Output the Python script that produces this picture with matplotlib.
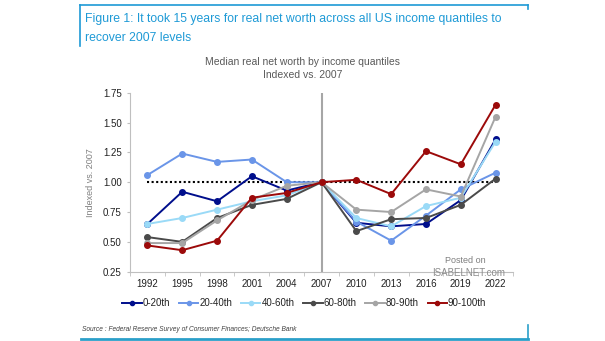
import numpy as np
import matplotlib.pyplot as plt
from matplotlib.lines import Line2D

plt.rcParams['font.family'] = ['Liberation Sans', 'DejaVu Sans']

# Dados
anos = ['1992', '1995', '1998', '2001', '2004', '2007', '2010', '2013', '2016', '2019', '2022']
q0_20 = [0.65, 0.92, 0.84, 1.05, 0.93, 1.00, 0.66, 0.63, 0.65, 0.85, 1.36]
q20_40 = [1.06, 1.24, 1.17, 1.19, 1.00, 1.00, 0.67, 0.51, 0.72, 0.94, 1.08]
q40_60 = [0.65, 0.70, 0.77, 0.84, 0.89, 1.00, 0.70, 0.63, 0.80, 0.87, 1.34]
q60_80 = [0.54, 0.50, 0.70, 0.81, 0.86, 1.00, 0.59, 0.69, 0.70, 0.81, 1.03]
q80_90 = [0.49, 0.49, 0.68, 0.85, 0.97, 1.00, 0.77, 0.75, 0.94, 0.88, 1.55]
q90_100 = [0.47, 0.43, 0.51, 0.87, 0.91, 1.00, 1.02, 0.90, 1.26, 1.15, 1.65]
series_nomes = ['0-20th', '20-40th', '40-60th', '60-80th', '80-90th', '90-100th']
cores = ['#000E8C', '#6A95E8', '#9ADAF7', '#4A4A4A', '#A5A5A5', '#9C0A0A']

fig = plt.figure(figsize=(6.05, 3.41), dpi=100)
ax = fig.add_axes([0.2149, 0.2032, 0.848 - 0.2149, 0.7282 - 0.2032])

x = np.arange(len(anos))
ax.axvline(5, color='#A6A6A6', lw=1.5, zorder=1)
ax.plot([x[0], x[-1]], [1.0, 1.0], color='black', ls=(0, (1, 1.2)), lw=1.5, zorder=2)

todas = [q0_20, q20_40, q40_60, q60_80, q80_90, q90_100]
for vals, cor in zip(todas, cores):
    ax.plot(x, vals, color=cor, lw=1.4, marker='o', ms=4, zorder=3)

ax.set_xlim(-0.5, 10.5)
ax.set_ylim(0.25, 1.75)
ax.set_yticks([0.25, 0.5, 0.75, 1.0, 1.25, 1.5, 1.75])
ax.set_yticklabels(['0.25', '0.50', '0.75', '1.00', '1.25', '1.50', '1.75'])
ax.set_xticks(x)
ax.set_xticklabels(anos)
ax.set_xticks(np.arange(-0.5, 11, 1), minor=True)
ax.tick_params(axis='x', which='major', length=0, labelsize=7, colors='#222222', pad=5)
ax.tick_params(axis='x', which='minor', length=3, color='#BFBFBF', direction='out')
ax.tick_params(axis='y', length=2, color='#BFBFBF', labelsize=7, colors='#222222', pad=4)
for s in ['top', 'right']:
    ax.spines[s].set_visible(False)
for s in ['left', 'bottom']:
    ax.spines[s].set_color('#BFBFBF')
    ax.spines[s].set_linewidth(0.8)
ax.set_ylabel('Indexed vs. 2007', fontsize=6.5, color='#7F7F7F', labelpad=6)

# Títulos
fig.text(0.14, 0.945, 'Figure 1: It took 15 years for real net worth across all US income quantiles to',
         fontsize=8.8, color='#1E9AD6', va='center')
fig.text(0.14, 0.888, 'recover 2007 levels', fontsize=8.8, color='#1E9AD6', va='center')
fig.text(0.5, 0.818, 'Median real net worth by income quantiles', fontsize=7.5,
         color='#595959', ha='center', va='center')
fig.text(0.5, 0.78, 'Indexed vs. 2007', fontsize=7.5, color='#595959', ha='center', va='center')

# Moldura
fig.add_artist(Line2D([0.132, 0.872], [0.985, 0.985], color='#1E9AD6', lw=1.2))
fig.add_artist(Line2D([0.132, 0.132], [0.985, 0.865], color='#1E9AD6', lw=1.2))
fig.add_artist(Line2D([0.872, 0.872], [0.985, 0.975], color='#1E9AD6', lw=1.2))
fig.add_artist(Line2D([0.134, 0.873], [0.006, 0.006], color='#2A9FC9', lw=2))
fig.add_artist(Line2D([0.873, 0.873], [0.006, 0.048], color='#2A9FC9', lw=1.2))

# Legenda
handles = [Line2D([0], [0], color=c, lw=1.4, marker='o', ms=3) for c in cores]
fig.legend(handles, series_nomes, loc='center', bbox_to_anchor=(0.503, 0.11), ncol=6,
           frameon=False, fontsize=7, handlelength=2.0, handletextpad=0.1,
           columnspacing=0.9, labelcolor='#222222')

fig.text(0.135, 0.035, 'Source : Federal Reserve Survey of Consumer Finances; Deutsche Bank',
         fontsize=4.8, style='italic', color='#404040', va='center')

# Marca d'água
fig.text(0.735, 0.235, 'Posted on', fontsize=6.5, color='#7F7F7F', va='center')
fig.text(0.715, 0.2, 'ISABELNET.com', fontsize=7, color='#8C8C8C', va='center')

fig.savefig('out.png', dpi=100)
